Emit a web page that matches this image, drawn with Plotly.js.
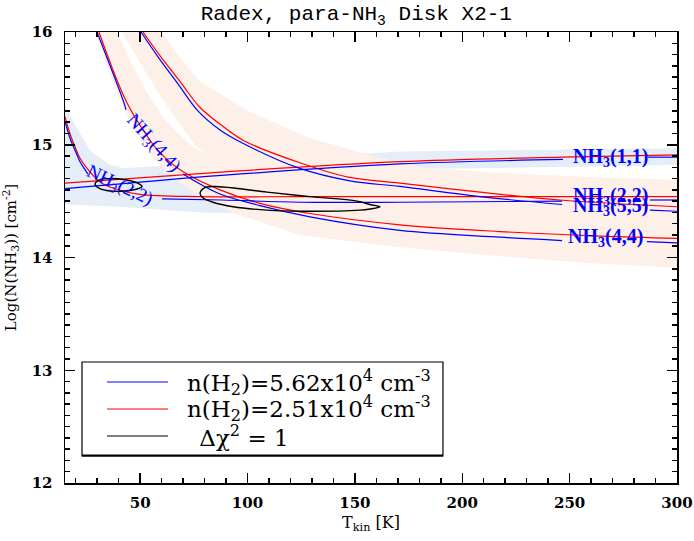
<!DOCTYPE html>
<html><head><meta charset="utf-8">
<script src="https://cdn.plot.ly/plotly-3.0.1.min.js"></script>
<style>html,body{margin:0;padding:0;background:#fff;}#chart{width:694px;height:541px;}</style>
</head><body><div id="chart"></div>
<script>
// ---- data (T_kin [K], log N(NH3) [cm^-2]) ----
// n(H2)=5.62e4 (blue) curves
const blue11_T = [15, 89.5, 171.0, 246.9, null, 286.5, 300];
const blue11_N = [14.61, 14.73, 14.83, 14.87, null, 14.89, 14.89];
const blue22_T = [15, 17.3, 19.7, 22.0, 24.3, 25.7, null, 60.2, 88.1, 124.4, 171.0, 246.5, null, 287.4, 300];
const blue22_N = [15.21, 15.06, 14.95, 14.85, 14.78, 14.74, null, 14.52, 14.51, 14.49, 14.49, 14.50, null, 14.51, 14.51];
const blue55_T = [50.4, 58.3, 67.6, 76.9, 87.2, 95.1, 124.4, 147.7, 171.0, 208.3, 246.5, null, 287.4, 300];
const blue55_N = [16.00, 15.78, 15.54, 15.30, 15.13, 15.04, 14.79, 14.68, 14.63, 14.54, 14.47, null, 14.42, 14.41];
const blue44_T = [29.9, 42.5, 43.4, null, 70.0, 86.3, 105.8, 129.1, 171.0, 217.6, 246.5, null, 286.0, 300];
const blue44_N = [16.00, 15.37, 15.31, null, 14.74, 14.57, 14.46, 14.36, 14.24, 14.18, 14.15, null, 14.14, 14.13];
// n(H2)=2.51e4 (red) curves
const red11_T = [15, 89.5, 171.0, 246.5, 300];
const red11_N = [14.66, 14.76, 14.85, 14.89, 14.91];
const red22_T = [15, 17.3, 19.7, 22.0, 26.6, 31.3, 38.3, 49.9, 77.9, 124.4, 171.0, 246.5, 300];
const red22_N = [15.25, 15.10, 14.98, 14.88, 14.76, 14.67, 14.61, 14.56, 14.54, 14.54, 14.54, 14.54, 14.54];
const red55_T = [51.3, 59.2, 68.6, 77.9, 88.1, 97.9, 124.4, 147.7, 171.0, 208.3, 245.5, 300];
const red55_N = [16.00, 15.79, 15.56, 15.33, 15.17, 15.04, 14.84, 14.71, 14.66, 14.58, 14.51, 14.45];
const red44_T = [30.8, 43.9, 54.6, 59.2, 70.0, 87.2, 105.8, 129.1, 171.0, 217.6, 264.2, 300];
const red44_N = [16.00, 15.37, 15.04, 14.93, 14.76, 14.60, 14.48, 14.39, 14.29, 14.23, 14.19, 14.17];
// delta chi^2 = 1 contours
const chiSmall_T = [29.0, 31.3, 36.0, 42.9, 48.9, 50.9, 48.9, 42.9, 36.0, 31.3, 29.0];
const chiSmall_N = [14.65, 14.69, 14.70, 14.69, 14.66, 14.63, 14.61, 14.59, 14.59, 14.61, 14.65];
const chiLarge_T = [77.9, 80.2, 84.9, 96.5, 109.1, 129.1, 151.0, 157.0, 161.7, 157.0, 152.4, 124.4, 109.1, 93.3, 83.9, 79.2, 77.9];
const chiLarge_N = [14.57, 14.62, 14.63, 14.61, 14.58, 14.54, 14.50, 14.47, 14.45, 14.43, 14.42, 14.41, 14.42, 14.45, 14.49, 14.53, 14.57];
// uncertainty bands (upper / lower edges)
const band11_upT = [15, 171.0, 300], band11_upN = [14.76, 14.94, 14.97];
const band11_loT = [15, 171.0, 300], band11_loN = [14.55, 14.78, 14.82];
const band22_upT = [15, 19.7, 26.6, 36.0, 49.9, 77.9, 124.4, 300];
const band22_upN = [15.35, 15.18, 14.95, 14.82, 14.76, 14.71, 14.66, 14.62];
const band22_loT = [15, 40.6, 77.9, 124.4, 300];
const band22_loN = [14.47, 14.45, 14.40, 14.38, 14.35];
const band44_upT = [39.2, 45.3, 52.3, 61.6, 73.2, 91.8, 124.4, 300];
const band44_upN = [16.00, 15.75, 15.49, 15.22, 15.00, 14.78, 14.60, 14.38];
const band44_loT = [29.4, 35.0, 40.6, 47.6, 56.9, 68.6, 77.9, 94.2, 124.4, 166.3, 217.6, 259.5, 300];
const band44_loN = [16.00, 15.66, 15.40, 15.13, 14.86, 14.66, 14.53, 14.39, 14.20, 14.10, 14.01, 13.95, 13.91];
const band55_upT = [60.2, 68.6, 77.9, 101.2, 129.1, 160.3, 180.3, 217.6, 264.2, 300];
const band55_upN = [16.00, 15.77, 15.56, 15.29, 15.06, 14.89, 14.80, 14.75, 14.71, 14.69];
const band55_loT = [41.5, 49.9, 59.2, 67.2, 75.5, 91.8, 124.4, 300];
const band55_loN = [16.00, 15.73, 15.44, 15.22, 15.00, 14.73, 14.51, 14.20];
// curve labels
const lab_text = ['NH<sub>3</sub>(1,1)', 'NH<sub>3</sub>(2,2)', 'NH<sub>3</sub>(5,5)', 'NH<sub>3</sub>(4,4)', 'NH<sub>3</sub>(4,4)', 'NH<sub>3</sub>(2,2)'];
const lab_T = [268.8, 268.8, 268.8, 266.5, 56.4, 40.4];
const lab_N = [14.89, 14.54, 14.45, 14.18, 15.01, 14.63];
const lab_angle = [0, 0, 0, 0, 48, 25];
const legend_text = ['n(H<sub>2</sub>)=5.62x10<sup>4</sup> cm<sup>-3</sup>', 'n(H<sub>2</sub>)=2.51x10<sup>4</sup> cm<sup>-3</sup>', ' \u0394\u03c7<sup>2</sup> = 1'];
// axis ranges and tick steps
const xRange = [15, 300], yRange = [12, 16];
const xMajor = 50, xMinor = 10, yMajor = 1, yMinor = 0.1;

const BLUE = '#0000ff', RED = '#ff0000', PINK = '#fdf0e9', LBLUE = '#e4edf8';

function line(x, y, color, w) {
  return {x: x, y: y, mode: 'lines', line: {color: color, width: w, shape: 'spline', smoothing: 1.0},
          connectgaps: false, hoverinfo: 'skip', showlegend: false};
}
function band(upX, upY, loX, loY, color) {
  return {x: upX.concat(loX.slice().reverse(), [upX[0]]), y: upY.concat(loY.slice().reverse(), [upY[0]]),
          mode: 'lines', fill: 'toself', fillcolor: color, line: {width: 0, color: color},
          hoverinfo: 'skip', showlegend: false};
}

const traces = [
  band(band11_upT, band11_upN, band11_loT, band11_loN, LBLUE),
  band(band22_upT, band22_upN, band22_loT, band22_loN, LBLUE),
  band(band44_upT, band44_upN, band44_loT, band44_loN, PINK),
  band(band55_upT, band55_upN, band55_loT, band55_loN, PINK),
  line(red11_T, red11_N, RED, 1.2),
  line(red22_T, red22_N, RED, 1.2),
  line(red55_T, red55_N, RED, 1.2),
  line(red44_T, red44_N, RED, 1.2),
  line(blue11_T, blue11_N, BLUE, 1.2),
  line(blue22_T, blue22_N, BLUE, 1.2),
  line(blue55_T, blue55_N, BLUE, 1.2),
  line(blue44_T, blue44_N, BLUE, 1.2),
  line(chiSmall_T, chiSmall_N, '#000', 1.4),
  line(chiLarge_T, chiLarge_N, '#000', 1.4)
];

const annotations = lab_text.map((t, i) => ({
  x: lab_T[i], y: lab_N[i], xref: 'x', yref: 'y', text: t, showarrow: false, textangle: lab_angle[i],
  xanchor: 'center', yanchor: 'middle',
  font: {family: 'Liberation Serif', size: i < 4 ? 20 : 19, color: BLUE, weight: i < 4 ? 'bold' : 'normal'}
}));
const legY = [0.2239, 0.1641, 0.1042];
const legCol = [BLUE, RED, '#000'];
legend_text.forEach((t, i) => {
  annotations.push({x: i < 2 ? 0.196 : 0.205, y: legY[i], xref: 'paper', yref: 'paper', text: t, showarrow: false,
    xanchor: 'left', yanchor: 'middle', font: {family: 'DejaVu Serif', size: 23, color: '#000'}});
});
const shapes = [
  {type: 'rect', xref: 'paper', yref: 'paper', x0: 0.0278, x1: 0.6176, y0: 0.0599, y1: 0.2683,
   line: {color: '#000', width: 1.2}, fillcolor: '#fff', layer: 'above'},
  {type: 'line', xref: 'paper', yref: 'paper', x0: 0.0278, x1: 0.6176, y0: 0.0610, y1: 0.0610,
   line: {color: '#000', width: 2.2}, layer: 'above'}
];
legY.forEach((y, i) => shapes.push({type: 'line', xref: 'paper', yref: 'paper', x0: 0.0686, x1: 0.1683, y0: y, y1: y,
  line: {color: legCol[i], width: 1.2}, layer: 'above'}));

const tickFont = {family: 'DejaVu Serif', size: 15, color: '#000', weight: 'bold'};
const axisCommon = {ticks: 'inside', ticklen: 10, tickwidth: 1.5, tickcolor: '#000', showline: true, linewidth: 1.5,
  linecolor: '#000', mirror: 'ticks', showgrid: false, zeroline: false, tickfont: tickFont, tickmode: 'linear',
  layer: 'above traces'};

const layout = {
  width: 694, height: 541, margin: {l: 65, r: 17, t: 32, b: 58},
  paper_bgcolor: '#fff', plot_bgcolor: '#fff', showlegend: false,
  title: {text: 'Radex, para-NH<sub>3</sub> Disk X2-1', font: {family: 'Liberation Mono', size: 21, color: '#000'},
          x: 0.476, xref: 'paper', xanchor: 'center', y: 0.976, yref: 'container', yanchor: 'middle'},
  xaxis: Object.assign({}, axisCommon, {range: xRange, tick0: 0, dtick: xMajor, ticklabelstandoff: 5,
    minor: {tick0: 0, dtick: xMinor, ticks: 'inside', ticklen: 5, tickwidth: 1.5, tickcolor: '#000', showgrid: false},
    title: {text: 'T<sub>kin</sub> [K]', font: {family: 'DejaVu Serif', size: 16, color: '#000'}, standoff: 6}}),
  yaxis: Object.assign({}, axisCommon, {range: yRange, tick0: 12, dtick: yMajor, ticklabelstandoff: 8,
    minor: {tick0: 12, dtick: yMinor, ticks: 'inside', ticklen: 5, tickwidth: 1.5, tickcolor: '#000', showgrid: false},
    title: {text: 'Log(N(NH<sub>3</sub>)) [cm<sup>-2</sup>]', font: {family: 'DejaVu Serif', size: 15, color: '#000'}, standoff: 14}}),
  annotations: annotations, shapes: shapes
};

Plotly.newPlot('chart', traces, layout, {staticPlot: true, displayModeBar: false});
</script></body></html>
